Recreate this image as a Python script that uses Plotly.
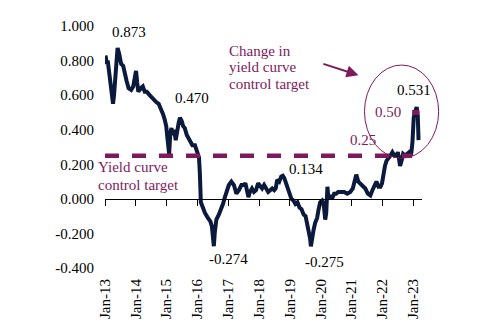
import plotly.graph_objects as go

# ---- data ----
dates = [
    "2013-01-08", "2013-01-21", "2013-02-02", "2013-02-20", "2013-03-08", "2013-03-25", "2013-04-06", "2013-04-18",
    "2013-05-01", "2013-05-18", "2013-05-30", "2013-06-18", "2013-07-12", "2013-08-04", "2013-08-23", "2013-09-15",
    "2013-10-08", "2013-11-07", "2013-12-01", "2013-12-20", "2014-01-04", "2014-01-18", "2014-01-31", "2014-03-01",
    "2014-03-25", "2014-04-17", "2014-05-11", "2014-06-14", "2014-07-19", "2014-08-31", "2014-09-29", "2014-10-28",
    "2014-11-20", "2014-12-09", "2014-12-28", "2015-01-09", "2015-01-21", "2015-01-31", "2015-02-14", "2015-02-28",
    "2015-03-15", "2015-04-01", "2015-04-19", "2015-05-06", "2015-05-24", "2015-06-08", "2015-06-29", "2015-07-17",
    "2015-08-04", "2015-08-28", "2015-10-03", "2015-11-03", "2015-12-03", "2015-12-27", "2016-01-20", "2016-01-30",
    "2016-02-06", "2016-02-11", "2016-03-06", "2016-03-29", "2016-05-04", "2016-06-03", "2016-06-21", "2016-07-01",
    "2016-07-14", "2016-07-26", "2016-08-13", "2016-09-12", "2016-10-12", "2016-10-30", "2016-11-22", "2016-12-16",
    "2017-01-08", "2017-02-07", "2017-03-09", "2017-04-07", "2017-05-07", "2017-06-06", "2017-07-05", "2017-07-23",
    "2017-08-10", "2017-08-28", "2017-09-15", "2017-10-09", "2017-11-02", "2017-11-26", "2017-12-20", "2018-01-13",
    "2018-02-06", "2018-03-02", "2018-03-26", "2018-04-19", "2018-05-13", "2018-06-06", "2018-06-30", "2018-07-17",
    "2018-08-04", "2018-08-28", "2018-09-21", "2018-10-09", "2018-10-27", "2018-11-14", "2018-12-02", "2018-12-26",
    "2019-01-19", "2019-02-12", "2019-03-08", "2019-04-01", "2019-04-25", "2019-05-19", "2019-06-12", "2019-07-06",
    "2019-07-24", "2019-08-11", "2019-08-29", "2019-09-07", "2019-09-21", "2019-10-09", "2019-10-27", "2019-11-20",
    "2019-12-08", "2019-12-26", "2020-01-19", "2020-02-06", "2020-02-24", "2020-03-07", "2020-03-21", "2020-04-03",
    "2020-04-21", "2020-05-15", "2020-06-08", "2020-07-02", "2020-07-26", "2020-08-31", "2020-10-06", "2020-11-11",
    "2020-12-17", "2021-01-16", "2021-02-09", "2021-02-26", "2021-03-22", "2021-04-15", "2021-05-14", "2021-06-13",
    "2021-07-13", "2021-08-12", "2021-09-05", "2021-09-29", "2021-10-23", "2021-11-16", "2021-12-10", "2021-12-28",
    "2022-01-13", "2022-02-01", "2022-02-19", "2022-03-13", "2022-04-06", "2022-04-30", "2022-05-24", "2022-06-17",
    "2022-07-04", "2022-07-18", "2022-07-30", "2022-08-17", "2022-09-04", "2022-09-28", "2022-10-22", "2022-11-15",
    "2022-12-03", "2022-12-12", "2022-12-24", "2023-01-08", "2023-01-28", "2023-02-12", "2023-02-25", "2023-03-06",
]
yields = [
    0.83, 0.78, 0.80, 0.72, 0.65, 0.58, 0.55, 0.60,
    0.70, 0.85, 0.873, 0.84, 0.78, 0.77, 0.72, 0.68,
    0.64, 0.63, 0.65, 0.70, 0.74, 0.67, 0.62, 0.64,
    0.65, 0.62, 0.62, 0.60, 0.58, 0.56, 0.55, 0.52,
    0.49, 0.46, 0.42, 0.36, 0.28, 0.26, 0.38, 0.41,
    0.37, 0.40, 0.34, 0.40, 0.44, 0.47, 0.45, 0.42,
    0.41, 0.37, 0.33, 0.31, 0.31, 0.28, 0.24, 0.15,
    0.03, -0.02, -0.05, -0.08, -0.11, -0.13, -0.16, -0.24,
    -0.274, -0.19, -0.12, -0.09, -0.06, -0.03, 0.01, 0.05,
    0.08, 0.10, 0.08, 0.03, 0.05, 0.08, 0.08, 0.09,
    0.04, 0.01, 0.04, 0.06, 0.04, 0.05, 0.09, 0.07,
    0.06, 0.08, 0.06, 0.04, 0.05, 0.06, 0.05, 0.06,
    0.11, 0.10, 0.13, 0.134, 0.12, 0.09, 0.06, 0.03,
    0.00, -0.01, -0.03, -0.02, -0.05, -0.06, -0.09, -0.10,
    -0.14, -0.17, -0.23, -0.275, -0.21, -0.18, -0.14, -0.11,
    -0.06, -0.02, -0.01, -0.03, -0.12, -0.08, 0.07, 0.00,
    0.02, 0.00, 0.03, 0.03, 0.04, 0.04, 0.04, 0.03,
    0.04, 0.06, 0.11, 0.14, 0.10, 0.09, 0.08, 0.06,
    0.03, 0.02, 0.05, 0.08, 0.10, 0.07, 0.07, 0.09,
    0.15, 0.19, 0.22, 0.24, 0.25, 0.27, 0.25, 0.25,
    0.27, 0.23, 0.19, 0.22, 0.26, 0.25, 0.26, 0.27,
    0.25, 0.27, 0.33, 0.47, 0.51, 0.531, 0.48, 0.34,
]

ycc_dates = ["2013-01-01", "2022-12-20"]
ycc_values = [0.25, 0.25]
ycc_new_dates = ["2022-12-20", "2023-03-15"]
ycc_new_values = [0.50, 0.50]

x_tick_dates = ["2013-01-01", "2014-01-01", "2015-01-01", "2016-01-01", "2017-01-01", "2018-01-01",
                "2019-01-01", "2020-01-01", "2021-01-01", "2022-01-01", "2023-01-01"]
x_tick_labels = ["Jan-13", "Jan-14", "Jan-15", "Jan-16", "Jan-17", "Jan-18",
                 "Jan-19", "Jan-20", "Jan-21", "Jan-22", "Jan-23"]
y_tick_vals = [-0.4, -0.2, 0.0, 0.2, 0.4, 0.6, 0.8, 1.0]
y_tick_labels = ["-0.400", "-0.200", "0.000", "0.200", "0.400", "0.600", "0.800", "1.000"]

value_labels = [
    ("2013-10-15", 0.967, "0.873"),
    ("2015-11-01", 0.585, "0.470"),
    ("2017-01-09", -0.350, "-0.274"),
    ("2019-07-06", 0.170, "0.134"),
    ("2020-02-20", -0.365, "-0.275"),
    ("2023-01-08", 0.630, "0.531"),
]
target_labels = [
    ("2022-03-10", 0.50, "0.50"),
    ("2021-05-16", 0.34, "0.25"),
]

# ---- styles ----
NAVY = "#0B1A3C"
PURPLE = "#7E1A5C"
FONT = "Liberation Serif"
X_RANGE = ["2013-01-01", "2023-04-16"]
Y_RANGE = [-0.4, 1.0]

fig = go.Figure()
fig.add_trace(go.Scatter(x=dates, y=yields, mode="lines",
                         line=dict(color=NAVY, width=4), hoverinfo="skip", showlegend=False))
fig.add_trace(go.Scatter(x=ycc_dates, y=ycc_values, mode="lines", xaxis="x2",
                         line=dict(color=PURPLE, width=4.5, dash="14px,13px"),
                         hoverinfo="skip", showlegend=False))
fig.add_trace(go.Scatter(x=ycc_new_dates, y=ycc_new_values, mode="lines", xaxis="x2",
                         line=dict(color=PURPLE, width=5), hoverinfo="skip", showlegend=False))

zero_pos = (0 - Y_RANGE[0]) / (Y_RANGE[1] - Y_RANGE[0])

fig.update_layout(
    width=498, height=333,
    margin=dict(l=105.3, r=76.3, t=26, b=65.3, autoexpand=False),
    paper_bgcolor="white", plot_bgcolor="white",
    font=dict(family=FONT, size=15, color="black"),
    xaxis=dict(range=X_RANGE, type="date", tickvals=x_tick_dates, ticktext=x_tick_labels,
               tickangle=-90, showline=False, showgrid=False, zeroline=False, ticks="",
               ticklabelstandoff=7, tickfont=dict(family=FONT, size=15, color="black")),
    xaxis2=dict(range=X_RANGE, type="date", overlaying="x", anchor="free", position=zero_pos,
                side="bottom", showline=True, linecolor="black", linewidth=1,
                ticks="outside", ticklen=6, tickcolor="black", tickwidth=1,
                tickvals=x_tick_dates, showticklabels=False, showgrid=False, zeroline=False),
    yaxis=dict(range=Y_RANGE, tickvals=y_tick_vals, ticktext=y_tick_labels,
               showline=False, showgrid=False, zeroline=False, ticks="",
               ticklabelstandoff=10, tickfont=dict(family=FONT, size=15, color="black")),
    showlegend=False,
)

for xd, yv, txt in value_labels:
    fig.add_annotation(x=xd, y=yv, text=txt, showarrow=False, xanchor="center", yanchor="middle",
                       font=dict(family=FONT, size=15, color="black"))
for xd, yv, txt in target_labels:
    fig.add_annotation(x=xd, y=yv, text=txt, showarrow=False, xanchor="center", yanchor="middle",
                       font=dict(family=FONT, size=15, color=PURPLE))

# multi-line callouts (paper coords)
change_lines = [("Change in", 0.898), ("yield curve", 0.829), ("control target", 0.760)]
for txt, yp in change_lines:
    fig.add_annotation(xref="paper", yref="paper", x=0.385, y=yp, text=txt, showarrow=False,
                       xanchor="left", yanchor="middle", font=dict(family=FONT, size=15, color=PURPLE))
ycc_lines = [("Yield curve", 0.418), ("control target", 0.343)]
for txt, yp in ycc_lines:
    fig.add_annotation(xref="paper", yref="paper", x=-0.029, y=yp, text=txt, showarrow=False,
                       xanchor="left", yanchor="middle", font=dict(family=FONT, size=15, color=PURPLE))

# arrow
fig.add_annotation(xref="paper", yref="paper", x=0.7996, y=0.797, ax=-36.6, ay=-11.7,
                   axref="pixel", ayref="pixel", text="", showarrow=True,
                   arrowhead=2, arrowsize=1.2, arrowwidth=2, arrowcolor=PURPLE)

# ellipse
fig.add_shape(type="circle", xref="paper", yref="paper", x0=0.8186, x1=1.0525, y0=0.4539, y1=0.8387,
              line=dict(color=PURPLE, width=1))

fig.write_html("out.html")
